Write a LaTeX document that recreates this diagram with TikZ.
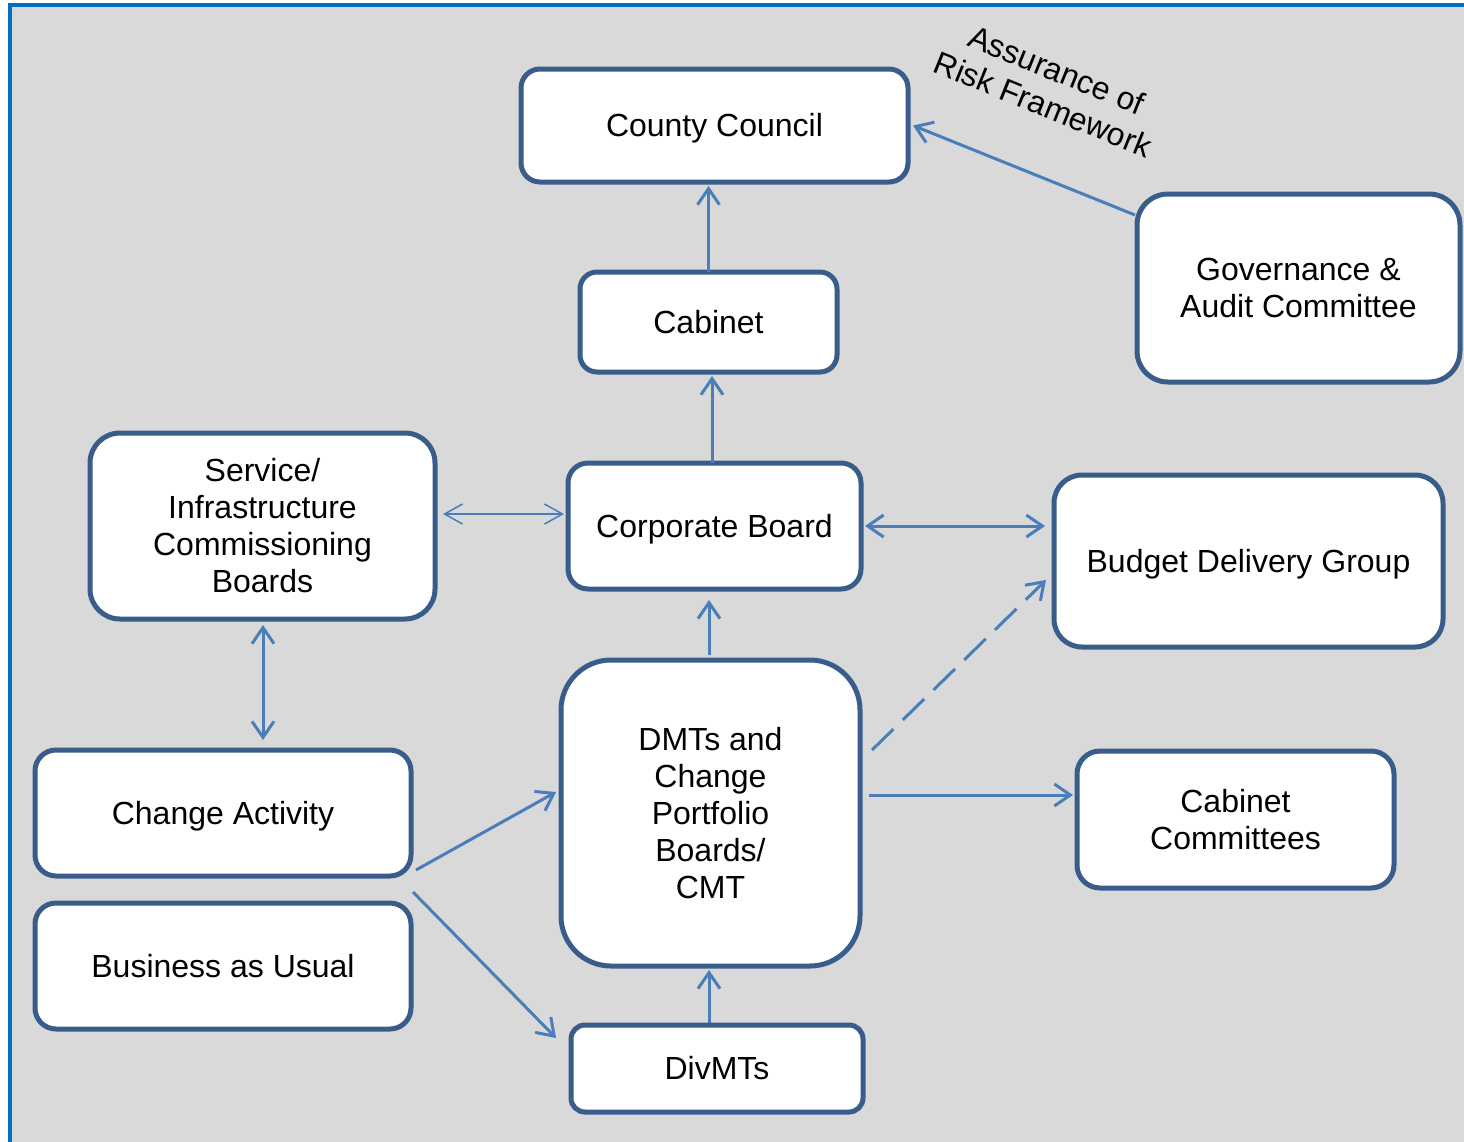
\documentclass[tikz,border=0pt]{standalone}
\usepackage{fontspec}
\setmainfont{Liberation Sans}
\usetikzlibrary{arrows.meta,calc}
\definecolor{bgray}{HTML}{D9D9D9}
\definecolor{frameblue}{HTML}{0070C0}
\definecolor{boxblue}{HTML}{385D8A}
\definecolor{arrblue}{HTML}{4A7EBB}
\begin{document}
\begin{tikzpicture}[x=0.5pt,y=-0.5pt,
  box/.style={draw=boxblue, line width=2.5pt, fill=white, align=center,
    font=\fontsize{16}{18.5}\selectfont, inner sep=0pt, outer sep=0pt},
  oneline/.style={text height=11.46pt, text depth=0pt},
  conn/.style={draw=arrblue, line width=1.5pt, -{Straight Barb[length=8pt,width=11pt]}},
  biconn/.style={draw=arrblue, line width=1.5pt,
    {Straight Barb[length=8pt,width=11pt]}-{Straight Barb[length=8pt,width=11pt]}},
  thinconn/.style={draw=arrblue, line width=0.75pt,
    {Straight Barb[length=9pt,width=10pt]}-{Straight Barb[length=9pt,width=10pt]}},
  lbl/.style={font=\fontsize{16}{18.5}\selectfont, align=center, inner sep=0pt}
]
\useasboundingbox (0,0) rectangle (1464,1142);
\fill[bgray] (10,5) rectangle (1464,1142);
\draw[frameblue, line width=2pt] (10,1142) -- (10,5) -- (1464,5);

\node[box, oneline, minimum width=193.5pt, minimum height=56.5pt, rounded corners=9.5pt] (cc) at (714.5,125.5) {County Council};
\node[box, oneline, minimum width=128.5pt, minimum height=50pt, rounded corners=8.5pt] (cab) at (708.5,322) {Cabinet};
\node[box, oneline, minimum width=146.5pt, minimum height=63pt, rounded corners=10pt] (corp) at (714.5,526) {Corporate Board};
\node[box, minimum width=172.5pt, minimum height=93pt, rounded corners=15pt] (serv) at (262.5,526) {Service/\\Infrastructure\\Commissioning\\Boards};
\node[box, oneline, minimum width=194.5pt, minimum height=86pt, rounded corners=14pt] (bdg) at (1248.5,561) {Budget Delivery Group};
\node[box, minimum width=161.5pt, minimum height=94pt, rounded corners=15.5pt] (gov) at (1298.5,288) {Governance \&\\Audit Committee};
\node[box, oneline, minimum width=188pt, minimum height=63pt, rounded corners=10.5pt] (chg) at (223,813) {Change Activity};
\node[box, oneline, minimum width=188pt, minimum height=63pt, rounded corners=10.5pt] (bau) at (223,966) {Business as Usual};
\node[box, minimum width=149.5pt, minimum height=153pt, rounded corners=25pt] (dmt) at (710.5,813) {DMTs and\\Change\\Portfolio\\Boards/\\CMT};
\node[box, minimum width=158.5pt, minimum height=68.5pt, rounded corners=11.5pt] (ccm) at (1235.5,819.5) {Cabinet\\Committees};
\node[box, oneline, minimum width=146pt, minimum height=43.5pt, rounded corners=7pt] (div) at (717,1068.5) {DivMTs};

\node[lbl, rotate=-22] (arf) at (1050,87) {Assurance of\\Risk Framework};

\draw[conn] (cab.north) -- ($(cab.north |- cc.south)+(0,4)$);
\draw[conn] ($(corp.north)+(-2.5,0)$) -- ($(corp.north |- cab.south)+(-2.5,4)$);
\draw[conn] ($(dmt.north)+(-1.5,-5)$) -- ($(dmt.north |- corp.south)+(-1.5,11)$);
\draw[conn] ($(div.north)+(-8,-2)$) -- ($(div.north |- dmt.south)+(-8,4)$);
\draw[thinconn] ($(serv.east)+(8,-12)$) -- ($(corp.west)+(-4,-12)$);
\draw[biconn] ($(corp.east)+(4,0)$) -- ($(bdg.west)+(-9,-35)$);
\draw[biconn] ($(serv.south)+(0.5,6)$) -- ($(serv.south |- chg.north)+(0.5,-10)$);
\draw[conn, dash pattern=on 15pt off 6.5pt] ($(dmt.east)+(12,-63)$) -- ($(bdg.west)+(-8,19)$);
\draw[conn] ($(dmt.east)+(9,-18)$) -- ($(ccm.west)+(-4,-24.5)$);
\draw[conn] ($(chg.east)+(5,57)$) -- ($(dmt.west)+(-5,-21)$);
\draw[conn] ($(bau.north east)+(2,-11)$) -- ($(div.west)+(-15,-30.5)$);
\draw[conn] ($(gov.north west)+(-2,21)$) -- ($(cc.east)+(5,0)$);
\end{tikzpicture}
\end{document}
